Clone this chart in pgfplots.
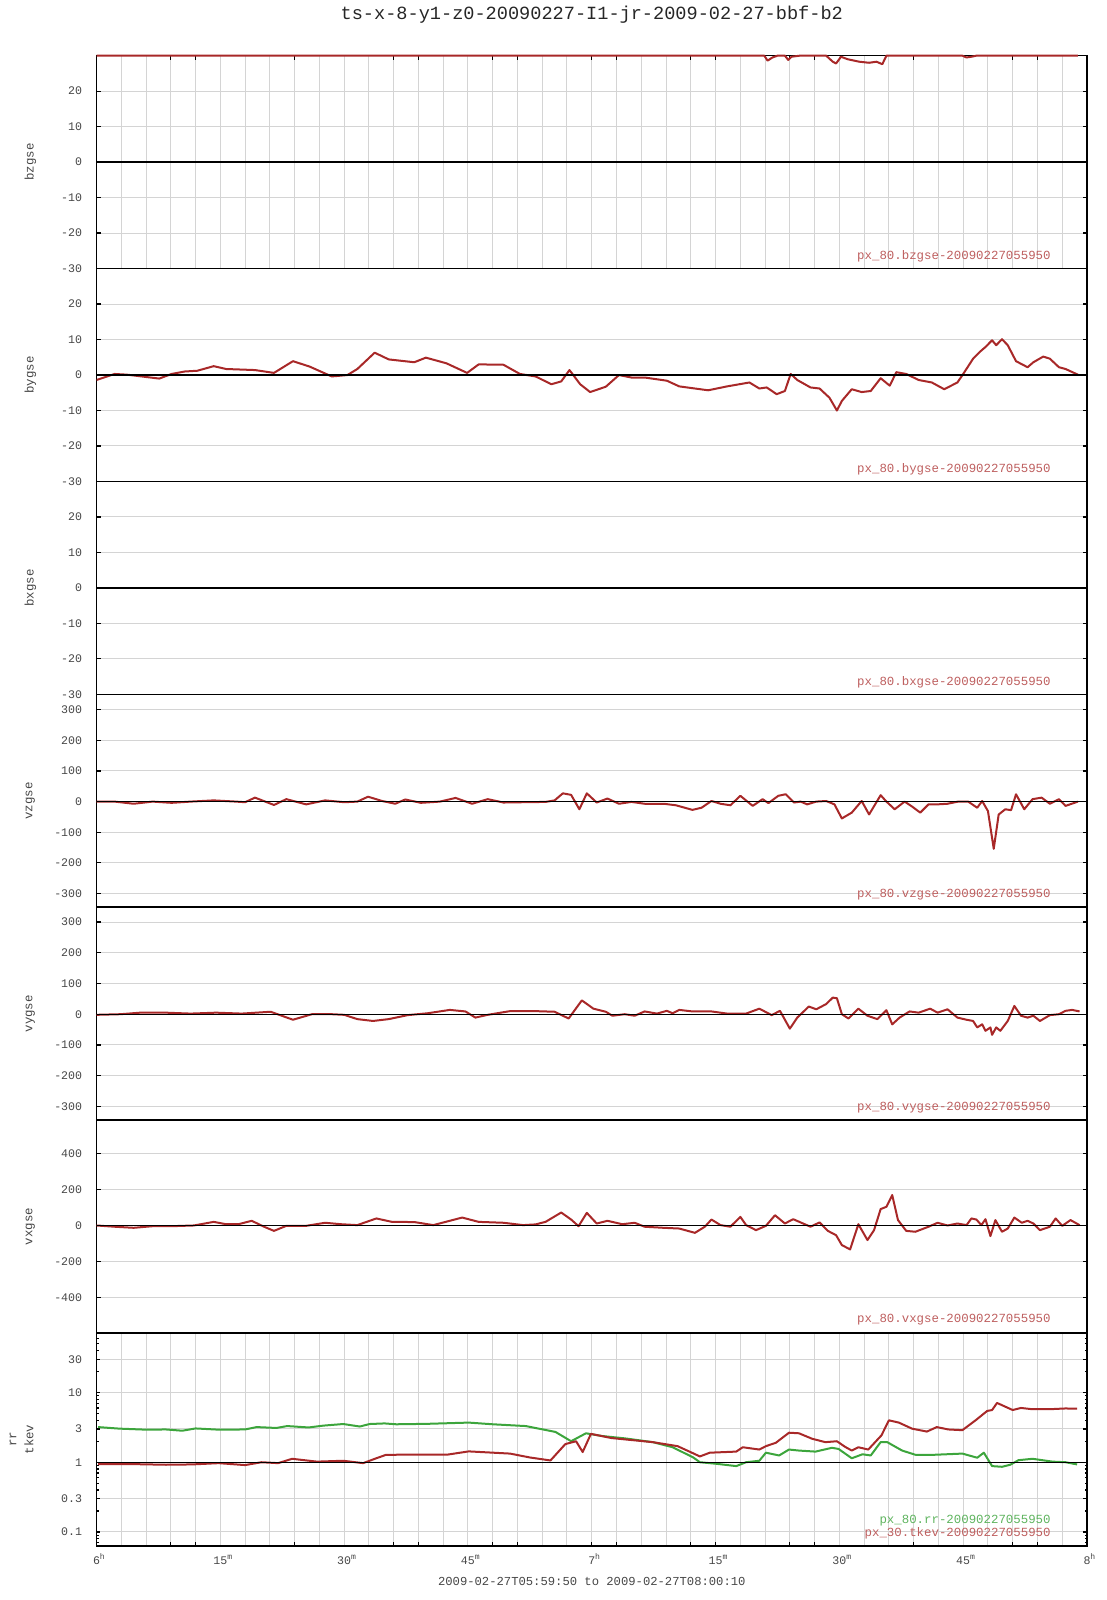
\documentclass[border=0pt]{standalone}
\usepackage{fontspec}
\setmainfont{Liberation Mono}
\usepackage{pgfplots}
\pgfplotsset{compat=1.18}
\definecolor{datared}{RGB}{168,40,40}
\definecolor{datagreen}{RGB}{60,165,60}
\definecolor{annred}{RGB}{190,95,95}
\definecolor{anngreen}{RGB}{95,180,95}
\definecolor{tickgray}{RGB}{70,70,70}
\definecolor{gridgray}{RGB}{212,212,212}
\tikzset{ann/.style={anchor=east, inner sep=0pt, font=\fontsize{6.2}{7}\selectfont, text=annred}}
\pgfplotsset{
  panel/.style={
    scale only axis, width=495.25pt, height=106.45pt,
    xmin=0, xmax=120,
    xtick=\empty,
    minor xtick={0,3,...,120},
    xminorgrids=true, ymajorgrids=true,
    minor grid style={draw=gridgray, line width=0.5pt},
    major grid style={draw=gridgray, line width=0.5pt},
    minor tick length=0pt, major tick length=2pt,
    tick style={black, line width=0.6pt},
    axis line style={black, line width=0.8pt},
    tick align=inside,
    yticklabel style={font=\fontsize{5.8}{7}\selectfont, text=tickgray, anchor=east, inner sep=0pt, xshift=-7pt},
    ylabel style={font=\fontsize{6.2}{8.5}\selectfont, text=tickgray, at={(axis description cs:-0.0668,0.5)}, anchor=center, align=center},
  },
  dline/.style={datared, line width=1pt, line join=round},
  zline/.style={black, line width=0.7pt},
  bpanel/.style={panel, ymin=-30, ymax=30, ytick={-30,-20,-10,0,10,20}, yticklabels={-30,-20,-10,0,10,20}},
}
\begin{document}
\begin{tikzpicture}
\path[use as bounding box] (0,0) rectangle (553.5pt,800pt);
\node[anchor=base, font=\fontsize{9.3}{11}\selectfont, text=black!85] at (295.9pt,790.3pt) {ts-x-8-y1-z0-20090227-I1-jr-2009-02-27-bbf-b2};
\node[anchor=base, font=\fontsize{6.1}{7}\selectfont, text=tickgray] at (295.9pt,7pt) {2009-02-27T05:59:50 to 2009-02-27T08:00:10};

% panel 1 bzgse
\begin{axis}[bpanel, at={(48.25pt,772.15pt)}, anchor=north west, clip=false,
  xtick={9,12,24,36,39,48,51,60,63,72,75,84,87,99,111,114}, xticklabels={}, xtick pos=right,
  ylabel={bzgse}]
\addplot[dline] coordinates {(0,30) (80.9,30) (81.3,28.6) (81.9,29.5) (82.5,30) (83.4,30) (83.8,28.8) (84.2,29.7) (85.2,30) (88.4,30) (89.2,28.3) (89.6,27.8) (90.2,29.7) (91.0,29.0) (92.4,28.3) (93.6,28.0) (94.5,28.3) (95.2,27.6) (95.7,30) (104.9,30) (105.4,29.5) (106.0,29.7) (106.6,30) (118.9,30)};
\addplot[zline] coordinates {(0,0) (120,0)};
\node[ann] at (axis description cs:0.9637,0.059) {px\_80.bzgse-20090227055950};
\end{axis}

% panel 2 bygse
\begin{axis}[bpanel, at={(48.25pt,665.70pt)}, anchor=north west, ylabel={bygse}]
\addplot[dline] coordinates {(0.0,-1.4) (2.2,0.3) (3.7,0.1) (7.6,-1.0) (9.1,0.3) (10.7,1.0) (12.2,1.2) (14.2,2.5) (15.7,1.7) (19.2,1.4) (21.5,0.6) (23.8,3.9) (25.8,2.4) (28.5,-0.4) (30.4,0) (31.6,1.7) (33.7,6.3) (35.4,4.4) (38.5,3.6) (39.9,4.9) (42.4,3.3) (44.9,0.6) (46.3,3.0) (49.3,2.9) (51.3,0.3) (53.2,-0.4) (55.1,-2.6) (56.3,-1.8) (57.3,1.4) (58.6,-2.6) (59.8,-4.8) (61.7,-3.3) (63.3,0) (64.8,-0.7) (66.4,-0.7) (69.1,-1.6) (70.6,-3.2) (74.1,-4.3) (76.4,-3.2) (79.1,-2.1) (80.3,-3.8) (81.2,-3.5) (82.4,-5.4) (83.4,-4.5) (84.1,0.3) (84.9,-1.4) (86.5,-3.5) (87.6,-3.8) (88.8,-6.4) (89.7,-10) (90.3,-7.3) (91.5,-4) (92.7,-4.8) (93.8,-4.5) (95.0,-0.9) (96.1,-3) (96.9,0.8) (98.1,0.3) (99.6,-1.4) (101.2,-2.1) (102.7,-4.0) (104.3,-2.1) (105.0,0.3) (106.2,4.6) (107.0,6.5) (107.7,7.9) (108.5,9.8) (109.0,8.4) (109.7,10.1) (110.4,8.4) (111.4,3.9) (112.8,2.2) (113.5,3.6) (114.7,5.2) (115.5,4.6) (116.6,2.2) (117.4,1.7) (118.9,0.1)};
\addplot[zline] coordinates {(0,0) (120,0)};
\node[ann] at (axis description cs:0.9637,0.059) {px\_80.bygse-20090227055950};
\end{axis}

% panel 3 bxgse
\begin{axis}[bpanel, at={(48.25pt,559.25pt)}, anchor=north west, ylabel={bxgse}]
\addplot[zline] coordinates {(0,0) (120,0)};
\node[ann] at (axis description cs:0.9637,0.059) {px\_80.bxgse-20090227055950};
\end{axis}

% panel 4 vzgse
\begin{axis}[panel, at={(48.25pt,452.80pt)}, anchor=north west, ymin=-345, ymax=350,
  ytick={-300,-200,-100,0,100,200,300}, yticklabels={-300,-200,-100,0,100,200,300}, ylabel={vzgse}]
\addplot[dline] coordinates {(0.0,0) (2.2,0) (4.5,-7) (6.8,0) (9.1,-4) (11.4,0) (14.2,4) (16.9,0) (18.0,-2) (19.2,13) (21.5,-11) (23.0,8) (25.4,-9) (27.7,4) (30.0,-2) (31.6,0) (32.9,16) (34.6,2) (36.2,-7) (37.4,7) (39.3,-4) (41.6,0) (43.5,12) (45.5,-7) (47.4,8) (49.3,-3) (51.7,-2) (54.4,-1) (55.5,4) (56.5,27) (57.5,22) (58.5,-25) (59.4,27) (60.6,-3) (61.9,10) (63.3,-7) (64.8,-1) (66.4,-7) (68.7,-7) (70.2,-12) (72.2,-27) (73.3,-20) (74.5,2) (75.6,-7) (76.8,-12) (78.0,19) (79.5,-14) (80.7,8) (81.4,-5) (82.6,19) (83.5,24) (84.5,-3) (85.3,0) (86.1,-9) (87.2,0) (88.4,2) (89.4,-9) (90.3,-55) (91.5,-36) (92.7,2) (93.6,-42) (95.0,21) (95.7,0) (96.7,-25) (97.9,0) (98.8,-16) (99.8,-36) (100.8,-9) (101.9,-9) (103.1,-7) (104.4,0) (105.6,0) (106.7,-20) (107.3,2) (108.0,-31) (108.7,-154) (109.3,-42) (110.1,-25) (110.8,-28) (111.4,24) (112.4,-25) (113.4,8) (114.5,13) (115.5,-7) (116.6,8) (117.4,-14) (118.9,0)};
\addplot[zline] coordinates {(0,0) (120,0)};
\node[ann] at (axis description cs:0.9637,0.061) {px\_80.vzgse-20090227055950};
\end{axis}

% panel 5 vygse
\begin{axis}[panel, at={(48.25pt,346.35pt)}, anchor=north west, ymin=-345, ymax=348,
  ytick={-300,-200,-100,0,100,200,300}, yticklabels={-300,-200,-100,0,100,200,300}, ylabel={vygse}]
\addplot[dline] coordinates {(0.0,-2) (2.9,0) (5.3,5) (8.4,5) (11.4,2) (14.5,5) (17.6,2) (21.1,8) (23.8,-18) (26.1,0) (28.5,0) (30.0,-2) (31.6,-16) (33.5,-22) (35.4,-16) (37.7,-3) (40.1,3) (42.8,14) (44.7,9) (45.9,-11) (47.4,-2) (50.1,10) (53.2,10) (55.5,8) (57.2,-14) (58.8,45) (60.2,18) (61.7,8) (62.5,-5) (64.0,0) (65.2,-5) (66.4,9) (67.9,2) (69.1,11) (69.8,3) (70.6,14) (72.2,9) (74.5,9) (76.4,2) (78.7,2) (80.3,18) (81.8,-3) (82.8,11) (84.0,-47) (84.9,-11) (86.3,25) (87.2,16) (88.4,33) (89.2,54) (89.7,52) (90.3,0) (91.1,-14) (92.3,18) (93.4,-5) (94.6,-16) (95.7,13) (96.4,-33) (97.3,-11) (98.5,9) (99.6,5) (101.0,18) (101.9,5) (103.1,16) (104.3,-11) (105.4,-18) (106.2,-22) (106.7,-43) (107.3,-33) (107.7,-54) (108.3,-43) (108.5,-67) (109.0,-43) (109.5,-54) (110.4,-22) (111.2,27) (112.0,-5) (112.8,-11) (113.5,-5) (114.3,-22) (115.5,-3) (116.6,0) (117.4,11) (118.2,14) (119.1,9)};
\addplot[zline] coordinates {(0,0) (120,0)};
\node[ann] at (axis description cs:0.9637,0.061) {px\_80.vygse-20090227055950};
\end{axis}

% panel 6 vxgse
\begin{axis}[panel, at={(48.25pt,239.90pt)}, anchor=north west, ymin=-598, ymax=585,
  ytick={-400,-200,0,200,400}, yticklabels={-400,-200,0,200,400}, ylabel={vxgse}]
\addplot[dline] coordinates {(0.0,0) (2.2,-7) (4.5,-13) (6.8,-4) (9.1,-4) (11.8,0) (14.2,20) (15.7,7) (17.2,7) (18.8,26) (20.3,-7) (21.5,-30) (23.0,-2) (25.4,-2) (27.7,15) (29.6,7) (31.6,2) (33.9,39) (35.8,20) (38.5,19) (40.8,2) (44.3,44) (46.3,20) (49.3,15) (51.7,2) (53.2,6) (54.4,20) (56.3,72) (57.5,33) (58.4,-4) (59.4,70) (60.6,11) (61.9,26) (63.7,7) (65.2,15) (66.4,-7) (68.7,-13) (70.6,-17) (72.5,-41) (73.7,-7) (74.5,33) (75.6,2) (76.8,-7) (78.0,48) (78.7,2) (79.9,-26) (81.1,-2) (82.2,57) (83.4,11) (84.4,35) (85.3,17) (86.5,-7) (87.6,17) (88.6,-30) (89.6,-54) (90.3,-109) (91.3,-133) (92.3,7) (93.4,-81) (94.2,-26) (95.0,91) (95.7,104) (96.4,169) (97.1,30) (98.1,-30) (99.2,-35) (100.8,-7) (101.9,15) (103.1,0) (104.3,11) (105.4,2) (106.0,39) (106.6,33) (107.2,2) (107.7,35) (108.3,-59) (108.9,30) (109.7,-35) (110.4,-17) (111.2,44) (112.1,15) (112.8,26) (113.5,11) (114.3,-26) (115.5,-7) (116.2,39) (117.0,-2) (118.0,30) (119.1,2)};
\addplot[zline] coordinates {(0,0) (120,0)};
\node[ann] at (axis description cs:0.9637,0.061) {px\_80.vxgse-20090227055950};
\end{axis}

% panel 7 rr / tkev
\begin{axis}[panel, at={(48.25pt,133.45pt)}, anchor=north west, ymode=log, ymin=0.063, ymax=71,
  ytick={0.1,0.3,1,3,10,30}, yticklabels={0.1,0.3,1,3,10,30},
  extra y ticks={0.07,0.08,0.09,0.2,0.4,0.5,0.6,0.7,0.8,0.9,2,4,5,6,7,8,9,20,40,50,60,70},
  extra y tick labels={}, extra y tick style={grid=none, major tick length=1.2pt},
  xtick={9,12,24,36,39,48,51,60,63,72,75,84,87,99,111,114}, xticklabels={}, xtick pos=left,
  extra x ticks={0,15,30,45,60,75,90,105,120},
  extra x tick labels={6\rlap{\textsuperscript{h}},15\rlap{\textsuperscript{m}},30\rlap{\textsuperscript{m}},45\rlap{\textsuperscript{m}},7\rlap{\textsuperscript{h}},15\rlap{\textsuperscript{m}},30\rlap{\textsuperscript{m}},45\rlap{\textsuperscript{m}},8\rlap{\textsuperscript{h}}},
  extra x tick style={grid=none, major tick length=0pt},
  xticklabel style={font=\fontsize{5.8}{7}\selectfont, text=tickgray, anchor=base, inner sep=0pt, yshift=-9.5pt},
  ylabel={rr\\tkev}, ylabel style={at={(axis description cs:-0.0755,0.5)}}]
\addplot[datagreen, line width=1pt, line join=round] coordinates {(0.2,3.19) (2.8,3.03) (6.0,2.93) (8.4,2.95) (10.4,2.83) (12.0,3.05) (14.8,2.93) (18.0,2.95) (19.4,3.19) (21.8,3.10) (23.1,3.30) (25.7,3.15) (27.5,3.35) (29.9,3.53) (31.9,3.25) (33.1,3.53) (34.9,3.60) (36.3,3.50) (40,3.55) (45.1,3.7) (48,3.5) (52,3.3) (55.6,2.72) (57.5,2.0) (59.3,2.6) (61.2,2.38) (64,2.2) (67.4,1.94) (69.8,1.64) (72.3,1.17) (73.1,1.0) (75.1,0.95) (77.5,0.88) (78.7,1.0) (80.3,1.05) (81.1,1.37) (82.7,1.25) (83.9,1.52) (85.1,1.47) (87.1,1.42) (89.1,1.61) (89.9,1.55) (91.5,1.14) (92.8,1.3) (93.8,1.25) (95.0,1.94) (95.8,1.94) (97.6,1.47) (99.2,1.28) (101.6,1.28) (104.9,1.33) (106.7,1.16) (107.5,1.37) (108.5,0.88) (109.7,0.86) (110.7,0.92) (111.7,1.07) (113.4,1.12) (115.8,1.02) (117.4,1.0) (118.8,0.93)};
\addplot[dline] coordinates {(0.2,0.94) (4.4,0.94) (8.4,0.92) (11.6,0.93) (14.8,0.97) (18.0,0.91) (20.0,1.0) (22.0,0.97) (23.7,1.12) (26.7,1.02) (29.9,1.05) (32.3,0.97) (33.9,1.14) (35.1,1.28) (36.3,1.28) (42.6,1.29) (45.1,1.43) (50.1,1.33) (52.5,1.17) (55.0,1.06) (56.8,1.82) (58.1,2.0) (58.9,1.4) (59.9,2.55) (62.4,2.22) (67.4,1.94) (70.4,1.70) (72.3,1.34) (73.1,1.21) (74.3,1.37) (77.5,1.42) (78.3,1.64) (80.3,1.52) (81.1,1.70) (82.3,1.90) (83.9,2.65) (85.1,2.6) (86.7,2.17) (88.3,1.94) (89.7,2.0) (90.7,1.66) (91.5,1.47) (92.3,1.64) (93.5,1.52) (95.1,2.43) (96.0,3.99) (97.2,3.7) (98.8,3.03) (100.6,2.75) (101.8,3.19) (103.2,2.95) (104.9,2.88) (106.5,3.99) (107.9,5.43) (108.5,5.6) (109.1,7.08) (111.0,5.6) (112.0,6.0) (113.4,5.75) (115.4,5.75) (117.4,5.9) (118.8,5.85)};
\addplot[zline] coordinates {(0,1) (120,1)};
\node[ann, text=anngreen] at (axis description cs:0.9637,0.119) {px\_80.rr-20090227055950};
\node[ann] at (axis description cs:0.9637,0.060) {px\_30.tkev-20090227055950};
\end{axis}
\end{tikzpicture}
\end{document}
